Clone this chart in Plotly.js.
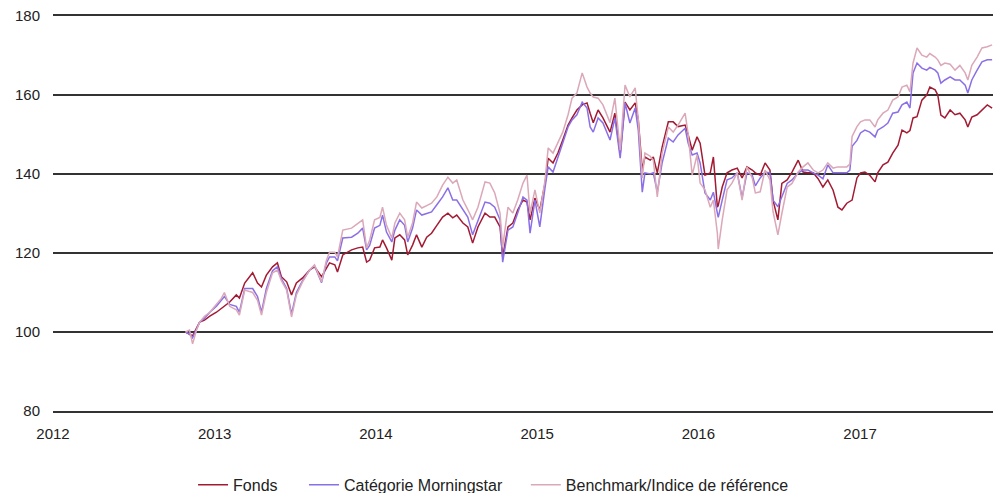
<!DOCTYPE html>
<html>
<head>
<meta charset="utf-8">
<script src="https://cdn.plot.ly/plotly-3.0.1.min.js"></script>
<style>html,body{margin:0;padding:0;background:#fff;}#chart{width:993px;height:493px;}</style>
</head>
<body>
<div id="chart"></div>
<script>
const dates = [
"2012-10-27","2012-11-05","2012-11-12","2012-11-21","2012-11-28","2012-12-09","2012-12-21",
"2013-01-05","2013-01-16","2013-01-23","2013-02-04","2013-02-19","2013-02-26","2013-03-10","2013-03-28",
"2013-04-08","2013-04-17","2013-04-28","2013-05-12","2013-05-23","2013-06-01","2013-06-13","2013-06-24",
"2013-07-05","2013-07-19","2013-08-04","2013-08-15","2013-08-31","2013-09-11","2013-09-18","2013-09-30",
"2013-10-06","2013-10-18","2013-11-07","2013-11-21","2013-12-02","2013-12-11","2013-12-18","2013-12-29",
"2014-01-10","2014-01-16","2014-01-25","2014-02-06","2014-02-13","2014-02-24","2014-03-07","2014-03-14",
"2014-03-25","2014-04-03","2014-04-15","2014-04-26","2014-05-07","2014-05-19","2014-06-01","2014-06-13",
"2014-06-24","2014-07-03","2014-07-17","2014-07-28","2014-08-08","2014-08-20","2014-09-05","2014-09-16",
"2014-09-27","2014-10-09","2014-10-15","2014-10-27","2014-11-07","2014-11-18","2014-11-30","2014-12-09",
"2014-12-16","2014-12-27","2015-01-07","2015-01-19","2015-01-26","2015-02-06","2015-02-17","2015-02-28",
"2015-03-12","2015-03-21","2015-04-01","2015-04-13","2015-04-24","2015-05-01","2015-05-08","2015-05-19",
"2015-05-30","2015-06-15","2015-06-26","2015-07-08","2015-07-19","2015-07-30","2015-08-11","2015-08-18",
"2015-08-27","2015-09-02","2015-09-14","2015-09-21","2015-09-30","2015-10-11","2015-10-25","2015-11-05",
"2015-11-16","2015-12-02","2015-12-09","2015-12-18","2015-12-29","2016-01-05","2016-01-16","2016-01-28",
"2016-02-04","2016-02-13","2016-02-15","2016-02-24","2016-03-06","2016-03-17","2016-03-29","2016-04-09",
"2016-04-20","2016-05-02","2016-05-09","2016-05-20","2016-05-31","2016-06-11","2016-06-18","2016-06-29",
"2016-07-08","2016-07-20","2016-07-31","2016-08-14","2016-08-25","2016-09-05","2016-09-17","2016-09-28",
"2016-10-09","2016-10-20","2016-11-01","2016-11-12","2016-11-21","2016-12-02","2016-12-09","2016-12-14",
"2016-12-25","2017-01-02","2017-01-12","2017-01-23","2017-02-04","2017-02-10","2017-02-22","2017-03-05",
"2017-03-16","2017-03-28","2017-04-06","2017-04-17","2017-04-24","2017-05-01","2017-05-10","2017-05-21",
"2017-06-01","2017-06-08","2017-06-20","2017-06-26","2017-07-03","2017-07-12","2017-07-24","2017-08-04",
"2017-08-15","2017-08-27","2017-09-02","2017-09-11","2017-09-23","2017-10-04","2017-10-16","2017-10-27"
];

const fonds = [
100,99.5,99,101,102.5,103,104,
105,106,106.5,107.6,109.4,108.6,112.4,115,
112.4,111.4,114.4,116.5,117.5,114,112.7,109.4,
112.4,113.7,115.7,116.5,114,116.2,117.5,117,
115.2,119.5,120.8,121.3,121.5,117.7,118.2,121.3,
121.5,123.3,121.3,118.2,123.8,124.6,123.3,119.5,
122,124.6,121.5,124,125,127,129.1,130.1,
128.9,129.6,127.6,126.6,122.5,126.6,130.1,129.1,
129.1,126.6,119,126.6,127.6,130.9,133.4,132.9,
128.4,133.9,130.9,137.7,144,142.8,145.3,148.6,
152.4,154.2,156.2,157.5,158,155.4,153,156.2,
154.2,150.6,155.4,145,158.2,156.2,158,153.7,
141,144.3,143.5,144.3,140.3,146.8,153.2,153.2,
152,152.4,149.9,146,149.4,147.8,139.7,140.3,
144.3,131.6,132,136.7,140.3,141,141.5,139,
141.8,141,140.3,139.7,142.8,141,133.4,128.4,
137.6,138.5,140.5,143.5,140.5,140.3,140.3,138.8,
136.7,138.5,135.9,131.6,130.9,132.6,133,133.4,
139,140.3,140.5,139.7,138,140.3,142.3,143,
145.3,147.3,151.1,150.4,151,154.2,154.5,158.7,
160,162,161.3,160,154.9,154.2,156.2,155,
155.4,153.7,151.9,154.4,155,156.2,157.5,156.7
];

const categorie = [
100,99.5,98.5,101,102.5,103.5,105,
106.5,108,109,107,106.5,105,111,111,
109,105,111,115.5,116.5,113.5,111,104.5,
110,113,115.7,116.8,112.5,117.5,119,119,
118,123.8,124,125,126.3,120.8,122,126.3,
127,129.6,125.3,122.8,125.8,128.4,127,122.8,
126.3,130.9,129.6,130,130.4,132.2,134.2,136.5,
133.4,133.4,130.9,129.1,124.6,128.4,132.9,132.6,
131.6,128.4,117.7,125.8,126.6,130.1,134.2,133.4,
125,133.4,126.6,136.7,141.8,140.5,144.3,148.1,
151.9,153.7,155,158.2,156.7,151.9,150.6,154.2,
152.9,148.6,154.2,144,158,152.9,156.7,151.1,
135.4,140.3,140,140.3,135.4,142.8,149.1,148.1,
149.9,151.6,147.8,144.8,145.3,142.8,135.2,133.4,
135.4,130.1,129,133.4,138.5,139,140.3,134,
140.3,139.7,137,139,140.5,140.3,133.4,131.7,
134.3,137.6,138.5,140.3,141,141,140.3,139.7,
138.8,142.3,140.3,140.3,140.3,140.3,141,147,
148.5,150.4,151.1,150.6,149.4,151.1,151.9,152.9,
155.4,155.7,157.5,158.2,156.7,165.6,168.1,166.8,
166.3,167,166.3,165.6,163,163.8,164.6,163.8,
163.8,162.5,160.5,163.8,166.3,168.4,168.9,168.9
];

const benchmark = [
100,100.5,97,100.5,102.5,104,105,
107,108.5,110,106.5,105.6,104.3,110.6,110,
108,104.3,110,115,115.7,113,110.6,103.8,
109.4,112.7,115.7,117,112.7,118.2,120.2,120.2,
119,125.8,126.3,127.6,128.4,121.3,123.3,128.4,
129,131.6,127,123.8,127.6,130.1,128.4,124,
127.6,132.9,131.4,132,132.6,134.2,137.2,139.2,
137.7,138.5,133.4,131,128.4,131.6,138,137.7,
135.2,130.1,121.5,131.6,130.1,133.4,137.7,139.7,
130.1,136,130.1,138.5,146.6,145.3,148.1,150.6,
155,159.2,160.5,165.6,162,160.5,159.5,159.2,
157.5,153,159.2,146,162.5,159.5,161.8,153.7,
139,145.3,144.5,143.5,134.2,145.3,151.9,150.6,
152.4,155.4,150,139.7,144.8,137.7,136,131.6,
133.4,125,121,128.4,136,137.7,140.3,133.4,
141.8,139,135.2,135.5,141,138.5,130.5,124.6,
130,136.7,137.6,140.5,141.8,142.8,141,140.3,
141,142.8,141.5,141.8,141.8,141.8,142.5,149.5,
152,153.2,153.7,153.7,151.9,153.7,155.4,156.2,
158.7,159.5,162,162.5,160.8,168.1,171.9,170.1,
169.6,170.5,169.6,168.9,167.5,168.1,167.8,166.3,
167.5,165.6,163.8,167.5,169.6,171.9,172.2,172.7
];

const seriesNames = ["Fonds", "Catégorie Morningstar", "Benchmark/Indice de référence"];
const yearTicks = ["2012-01-01","2013-01-01","2014-01-01","2015-01-01","2016-01-01","2017-01-01"];
const yearLabels = ["2012","2013","2014","2015","2016","2017"];
const yTicks = [80,100,120,140,160,180];

const colors = ["#a31a33", "#8a6fe6", "#dba8b8"];
const seriesValues = [fonds, categorie, benchmark];
const legendIds = ["legend", "legend2", "legend3"];
const legendX = [0.149, 0.267, 0.503];

const traces = seriesValues.map((vals, i) => ({
  type: "scatter",
  mode: "lines",
  x: dates,
  y: vals,
  name: seriesNames[i],
  legend: legendIds[i],
  line: {color: colors[i], width: 1.5},
  hoverinfo: "skip"
}));

const font = {family: "Liberation Sans, Arial, sans-serif", size: 15, color: "#222"};
const legendFont = {family: "Liberation Sans, Arial, sans-serif", size: 16, color: "#222"};

const layout = {
  width: 993,
  height: 493,
  margin: {l: 53, r: 0, t: 16, b: 82, autoexpand: false},
  paper_bgcolor: "#ffffff",
  plot_bgcolor: "#ffffff",
  font: font,
  showlegend: true,
  xaxis: {
    type: "date",
    range: ["2012-01-01", "2017-10-29"],
    tickmode: "array",
    tickvals: yearTicks,
    ticktext: yearLabels,
    showgrid: false,
    zeroline: false,
    showline: true,
    mirror: true,
    linecolor: "#333333",
    linewidth: 1.8,
    ticks: "",
    tickfont: font,
    ticklabelstandoff: 8
  },
  yaxis: {
    range: [80, 180],
    tickmode: "array",
    tickvals: yTicks,
    showgrid: true,
    gridcolor: "#333333",
    gridwidth: 1.8,
    zeroline: false,
    showline: false,
    ticks: "",
    tickfont: font,
    ticklabelstandoff: 12
  }
};

legendIds.forEach((id, i) => {
  layout[id] = {
    orientation: "h",
    x: legendX[i],
    xanchor: "left",
    y: -0.187,
    yanchor: "middle",
    font: legendFont,
    itemwidth: 30,
    bgcolor: "rgba(0,0,0,0)"
  };
});

Plotly.newPlot("chart", traces, layout, {staticPlot: true, displayModeBar: false});
</script>
</body>
</html>
